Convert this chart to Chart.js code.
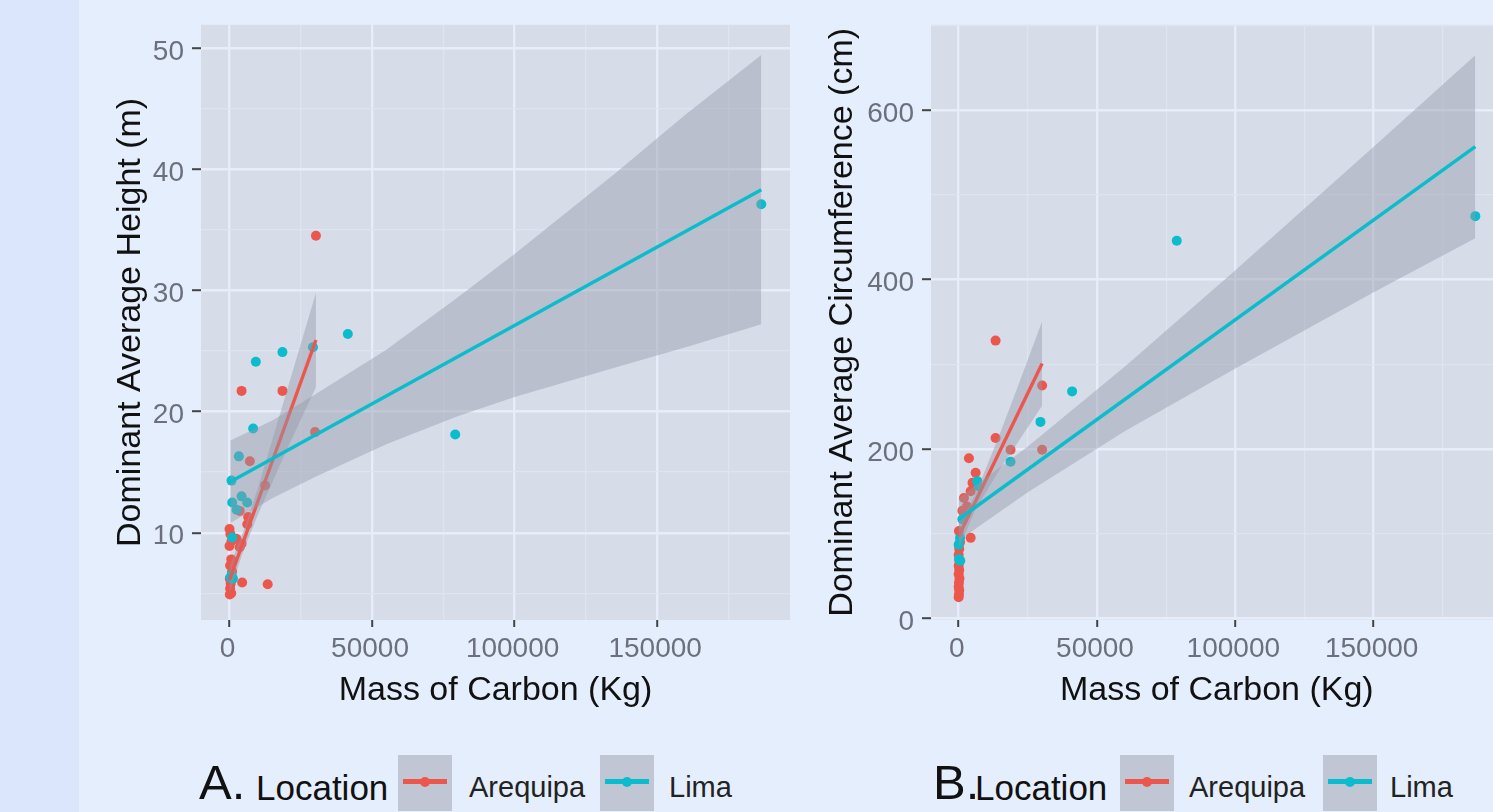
<!DOCTYPE html>
<html>
<head>
<meta charset="utf-8">
<script src="https://cdn.jsdelivr.net/npm/chart.js@4.4.0/dist/chart.umd.min.js"></script>
<style>
  html, body { margin: 0; padding: 0; }
  body {
    width: 1493px; height: 812px; overflow: hidden; position: relative;
    background: #e5eefc;
    font-family: "Liberation Sans", Arial, sans-serif;
  }
  .strip { position: absolute; left: 0; top: 0; width: 79px; height: 812px; background: #dbe6fc; }
  canvas { position: absolute; top: 0; }
  #chartA { left: 80px; }
  #chartB { left: 810px; }
  .lg { position: absolute; white-space: nowrap; line-height: 1; color: #111; }
  .key { position: absolute; top: 755px; width: 54px; height: 56px; background: #c0c6d3; }
  .key i { position: absolute; left: 5px; right: 5px; top: 24px; height: 5px; }
  .key b { position: absolute; left: 22px; top: 21.5px; width: 10px; height: 10px; border-radius: 50%; }
</style>
</head>
<body>
<div class="strip"></div>
<canvas id="chartA" width="720" height="740"></canvas>
<canvas id="chartB" width="710" height="740"></canvas>

<!-- legends -->
<div class="lg" style="left:199px; top:757.8px; font-size:49px;">A.</div>
<div class="lg" style="left:256px; top:769.7px; font-size:35px;">Location</div>
<div class="key" style="left:398px;"><i style="background:#ec574d"></i><b style="background:#ec574d"></b></div>
<div class="lg" style="left:469px; top:772.8px; font-size:29px; color:#222;">Arequipa</div>
<div class="key" style="left:600px;"><i style="background:#0bbccc"></i><b style="background:#0bbccc"></b></div>
<div class="lg" style="left:669px; top:772.8px; font-size:29px; color:#222;">Lima</div>

<div class="lg" style="left:933px; top:757.8px; font-size:49px;">B.</div>
<div class="lg" style="left:975px; top:769.7px; font-size:35px;">Location</div>
<div class="key" style="left:1120px;"><i style="background:#ec574d"></i><b style="background:#ec574d"></b></div>
<div class="lg" style="left:1189px; top:772.8px; font-size:29px; color:#222;">Arequipa</div>
<div class="key" style="left:1323px;"><i style="background:#0bbccc"></i><b style="background:#0bbccc"></b></div>
<div class="lg" style="left:1390px; top:772.8px; font-size:29px; color:#222;">Lima</div>

<script>
// ---- panel A: height vs carbon ----
const aqpCarbonA = [0, 300, 0, 700, 3570, 4230, 2400, 200, 600, 900, 100, 400, 200, 600, 100, 4440, 13390, 3570, 6230, 6540, 7130, 12480, 4230, 18570, 30000, 30320];
const aqpHeight  = [10.3, 9.9, 8.9, 9.3, 8.8, 9.1, 9.5, 7.3, 7.8, 6.8, 6.2, 5.8, 5.4, 5.0, 4.9, 5.9, 5.75, 11.8, 10.7, 11.3, 15.9, 13.9, 21.7, 21.7, 18.3, 34.5];
const limaCarbonA = [300, 730, 1200, 950, 2480, 950, 4230, 6200, 700, 3290, 8290, 9230, 18570, 29270, 41500, 79170, 186530];
const limaHeight  = [6.3, 6.5, 6.2, 9.6, 11.9, 12.5, 13.0, 12.5, 14.3, 16.3, 18.6, 24.1, 24.9, 25.3, 26.4, 18.1, 37.1];

const aqpFitCarbonA = [0, 30320];
const aqpFitHeight  = [6.1, 25.9];
const aqpBandCarbonA = [0, 5000, 10000, 20000, 30320];
const aqpBandHighA   = [7.2, 10.2, 13.7, 21.6, 29.8];
const aqpBandLowA    = [5.0, 8.6, 11.5, 16.8, 22.0];

const limaFitCarbonA = [300, 186530];
const limaFitHeight  = [14.2, 38.3];
const limaBandCarbonA = [300, 15000, 30000, 55000, 80000, 100000, 135000, 160000, 186530];
const limaBandHighA   = [17.6, 19.25, 21.4, 25.1, 29.4, 33.0, 39.6, 44.5, 49.4];
const limaBandLowA    = [10.8, 12.85, 14.6, 17.3, 19.6, 21.2, 23.6, 25.3, 27.2];

// ---- panel B: circumference vs carbon ----
const aqpCarbonB = [13340, 30170, 30170, 18750, 13340, 3710, 6130, 5000, 4330, 1910, 1330, 3000, 100, 4330, 500, 200, 0, 300, 0, 200, 0, 300, 100, 0, 200, 100, 0];
const aqpCirc    = [328, 275, 199, 199, 213, 189, 172, 160, 150, 142, 127, 132, 103, 95, 90, 82, 75, 68, 62, 57, 52, 47, 42, 37, 33, 28, 25];
const limaCarbonB = [0, 100, 600, 500, 1330, 6730, 7200, 18750, 29560, 41000, 78830, 186740];
const limaCirc    = [87, 70, 68, 95, 117, 162, 156, 185, 232, 268, 446, 475];

const aqpFitCarbonB = [0, 30170];
const aqpFitCirc    = [97, 301];
const aqpBandCarbonB = [0, 6000, 15000, 22000, 30170];
const aqpBandHighB   = [112, 146, 219, 279, 351];
const aqpBandLowB    = [82, 128, 177, 211, 251];

const limaFitCarbonB = [0, 186740];
const limaFitCirc    = [117, 557];
const limaBandCarbonB = [0, 25000, 60000, 100000, 150000, 186740];
const limaBandHighB   = [142, 203, 297, 411, 557, 665];
const limaBandLowB    = [92, 149, 221, 295, 385, 449];

// ---- ticks ----
const carbonTicks  = [0, 25000, 50000, 75000, 100000, 125000, 150000, 175000];
const carbonLabels = [0, 50000, 100000, 150000];
const heightTicks  = [5, 10, 15, 20, 25, 30, 35, 40, 45, 50];
const heightLabels = [10, 20, 30, 40, 50];
const circTicks    = [0, 100, 200, 300, 400, 500, 600, 700];
const circLabels   = [0, 200, 400, 600];

const RED = '#ec574d';
const CYAN = '#0bbccc';
const BAND = 'rgba(149,153,168,0.44)';
const FONT = '"Liberation Sans", Arial, sans-serif';
const TICK_COLOR = '#6c707c';

const pts = (xs, ys) => xs.map((x, i) => ({ x: x, y: ys[i] }));

const panelBg = {
  id: 'panelBg',
  beforeDraw(chart) {
    const { ctx, chartArea: a } = chart;
    ctx.save();
    ctx.fillStyle = '#d6dde9';
    ctx.fillRect(a.left, a.top, a.right - a.left, a.bottom - a.top);
    ctx.restore();
  }
};

function gridOpts(majors, tickLen) {
  const isMajor = c => c.tick && majors.includes(c.tick.value);
  return {
    color: c => isMajor(c) ? '#e7edf9' : '#dee5f1',
    lineWidth: c => isMajor(c) ? 2.4 : 1.3,
    tickLength: tickLen,
    tickColor: c => isMajor(c) ? '#444' : 'rgba(0,0,0,0)',
    tickWidth: 2
  };
}

// first dataset is drawn on top
function buildDatasets(p) {
  const line = (data, color) => ({
    type: 'line', data: data, borderColor: color, borderWidth: 3.4,
    pointRadius: 0, tension: 0, fill: false, borderCapStyle: 'butt'
  });
  const bandHigh = data => ({
    type: 'line', data: data, borderColor: 'rgba(0,0,0,0)', borderWidth: 0,
    pointRadius: 0, tension: 0, fill: '+1', backgroundColor: BAND
  });
  const bandLow = data => ({
    type: 'line', data: data, borderColor: 'rgba(0,0,0,0)', borderWidth: 0,
    pointRadius: 0, tension: 0, fill: false
  });
  const dots = (data, color) => ({
    type: 'scatter', data: data, backgroundColor: color, borderWidth: 0,
    pointRadius: 5, pointHoverRadius: 5
  });
  return [
    line(p.limaFit, CYAN),
    bandHigh(p.limaHigh),
    bandLow(p.limaLow),
    line(p.aqpFit, RED),
    bandHigh(p.aqpHigh),
    bandLow(p.aqpLow),
    dots(p.limaPts, CYAN),
    dots(p.aqpPts, RED)
  ];
}

function makeChart(id, p) {
  return new Chart(document.getElementById(id), {
    type: 'scatter',
    data: { datasets: buildDatasets(p) },
    plugins: [panelBg],
    options: {
      responsive: false,
      animation: false,
      events: [],
      layout: { padding: { top: 21, right: p.rightPad, left: 0, bottom: 0 } },
      plugins: { legend: { display: false }, tooltip: { enabled: false } },
      scales: {
        x: {
          type: 'linear', min: -10000, max: 196600,
          afterBuildTicks: s => { s.ticks = carbonTicks.map(v => ({ value: v })); },
          afterFit: s => { s.height = 120; },
          ticks: {
            autoSkip: false, maxRotation: 0, minRotation: 0, padding: 5, labelOffset: -2,
            color: TICK_COLOR, font: { family: FONT, size: 28 },
            callback: v => carbonLabels.includes(v) ? String(v) : ''
          },
          grid: gridOpts(carbonLabels, 7),
          border: { display: false },
          title: {
            display: true, text: 'Mass of Carbon (Kg)', color: '#111',
            font: { family: FONT, size: 34 }, padding: { top: 0, bottom: 29 }
          }
        },
        y: {
          type: 'linear', min: p.yMin, max: p.yMax,
          afterBuildTicks: s => { s.ticks = p.yTicks.map(v => ({ value: v })); },
          afterFit: s => { s.width = 121; },
          ticks: {
            autoSkip: false, padding: 8, labelOffset: 4,
            color: TICK_COLOR, font: { family: FONT, size: 28 },
            callback: v => p.yLabels.includes(v) ? String(v) : ''
          },
          grid: gridOpts(p.yLabels, 9),
          border: { display: false },
          title: {
            display: true, text: p.yTitle, color: '#111',
            font: { family: FONT, size: 34 }, padding: { top: p.yTitlePad, bottom: 0 }
          }
        }
      }
    }
  });
}

makeChart('chartA', {
  aqpPts: pts(aqpCarbonA, aqpHeight),
  limaPts: pts(limaCarbonA, limaHeight),
  aqpFit: pts(aqpFitCarbonA, aqpFitHeight),
  aqpHigh: pts(aqpBandCarbonA, aqpBandHighA),
  aqpLow: pts(aqpBandCarbonA, aqpBandLowA),
  limaFit: pts(limaFitCarbonA, limaFitHeight),
  limaHigh: pts(limaBandCarbonA, limaBandHighA),
  limaLow: pts(limaBandCarbonA, limaBandLowA),
  yMin: 2.8, yMax: 51.9, yTicks: heightTicks, yLabels: heightLabels,
  yTitle: 'Dominant Average Height (m)', yTitlePad: 30.6, rightPad: 10
});

makeChart('chartB', {
  aqpPts: pts(aqpCarbonB, aqpCirc),
  limaPts: pts(limaCarbonB, limaCirc),
  aqpFit: pts(aqpFitCarbonB, aqpFitCirc),
  aqpHigh: pts(aqpBandCarbonB, aqpBandHighB),
  aqpLow: pts(aqpBandCarbonB, aqpBandLowB),
  limaFit: pts(limaFitCarbonB, limaFitCirc),
  limaHigh: pts(limaBandCarbonB, limaBandHighB),
  limaLow: pts(limaBandCarbonB, limaBandLowB),
  yMin: -2, yMax: 701, yTicks: circTicks, yLabels: circLabels,
  yTitle: 'Dominant Average Circumference (cm)', yTitlePad: 12.6, rightPad: 17.4
});
</script>
</body>
</html>
